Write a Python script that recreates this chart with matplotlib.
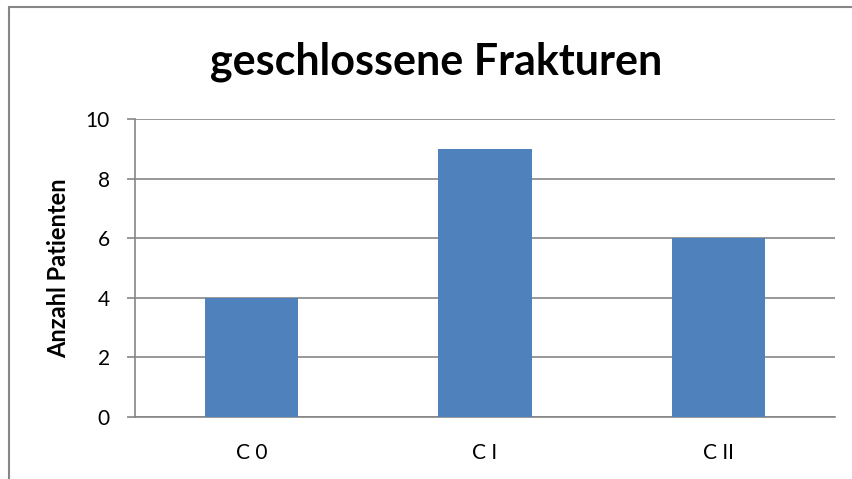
import matplotlib.pyplot as plt
from matplotlib.patches import Rectangle

categories = ["C 0", "C I", "C II"]
patients = [4, 9, 6]
y_ticks = [0, 2, 4, 6, 8, 10]

plt.rcParams["font.family"] = ["Lato", "DejaVu Sans"]

W, H = 853, 479
fig = plt.figure(figsize=(W / 100, H / 100), dpi=100)
ax = fig.add_axes([135 / W, 1 - 417 / H, 700 / W, 298 / H])

grid_color = "#868686"
x = list(range(len(categories)))
ax.bar(x, patients, width=0.4, color="#4F81BD", zorder=3)

ax.set_xlim(-0.5, len(categories) - 0.5)
ax.set_ylim(0, 10)
ax.set_yticks(y_ticks)
ax.set_xticks(x)
ax.set_xticklabels(categories, fontsize=15)
ax.tick_params(axis="y", labelsize=15, length=6, color=grid_color, width=1.2, pad=12)
ax.tick_params(axis="x", length=0, pad=19)
ax.yaxis.grid(True, color=grid_color, linewidth=1.2, zorder=0)

for side in ["top", "right"]:
    ax.spines[side].set_visible(False)
ax.spines["left"].set_color(grid_color)
ax.spines["bottom"].set_color(grid_color)
ax.spines["left"].set_linewidth(1.2)
ax.spines["bottom"].set_linewidth(1.2)

fig.text(59 / W, 1 - 268 / H, "Anzahl Patienten", fontsize=17, fontweight="bold",
         rotation=90, ha="center", va="center")
fig.text(436 / W, 1 - 62 / H, "geschlossene Frakturen", fontsize=31,
         fontweight="bold", ha="center", va="center")

# outer chart frame (clipped at right and bottom like the original)
fig.add_artist(Rectangle((8.5 / W, -0.1), 1.2, 1.1 - 7 / H, transform=fig.transFigure,
                         fill=False, edgecolor=grid_color, linewidth=1.5, clip_on=False))

fig.savefig("out.png", dpi=100)
